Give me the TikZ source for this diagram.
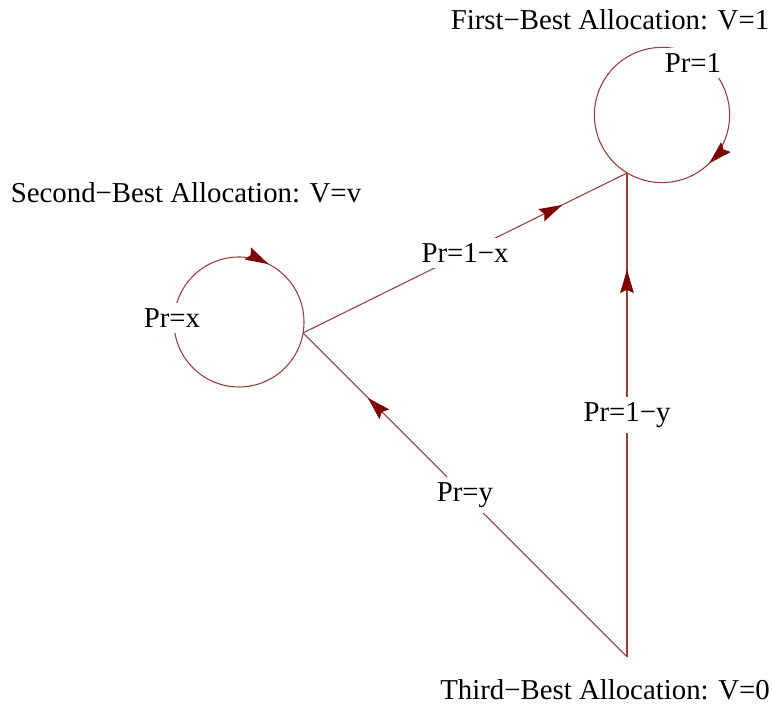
\documentclass[tikz,border=0pt]{standalone}
\usepackage{fontspec}
\setmainfont{Liberation Serif}
\usetikzlibrary{arrows.meta, decorations.markings}
\definecolor{cedge}{HTML}{9A3A3A}
\definecolor{chead}{HTML}{800000}
\tikzset{
  every picture/.style={font=\fontsize{20.5}{24}\selectfont, line width=0.75pt},
  flow/.style={draw=cedge, postaction={decorate},
    decoration={markings, mark=at position #1 with {\arrow[chead]{Stealth[length=5.8mm, width=3.4mm, inset=0.8mm]}}}},
  flow/.default=0.8,
  plabel/.style={fill=white, inner sep=4pt},
  state/.style={align=center},
}

\begin{document}
\begin{tikzpicture}
  \useasboundingbox (0,0) rectangle (19.3,17.675);
  % states
  \coordinate (first) at (15.675,13.35);
  \coordinate (second) at (7.575,9.35);
  \coordinate (third) at (15.675,1.25);
  \node[state] (firstlbl) at (15.25,17.175) {First−Best Allocation: V=1};
  \node[state] (secondlbl) at (4.65,12.85) {Second−Best Allocation: V=v};
  \node[state] (thirdlbl) at (15.125,0.425) {Third−Best Allocation: V=0};
  % self loops
  \draw[flow=0.325] ([shift={(180:1.625)}]5.975,9.625) arc[start angle=180, end angle=-180, radius=1.625];
  \node[plabel] (loopx) at (4.3,9.725) {Pr=x};
  \draw[flow=0.377] ([shift={(90:1.69)}]16.55,14.8) arc[start angle=90, end angle=-270, radius=1.69];
  \node[plabel] (loopone) at (17.325,16.1) {Pr=1};
  % transitions
  \draw[flow] (second) -- node[plabel] {Pr=1−x} (first);
  \draw[flow] (third) -- node[plabel] {Pr=1−y} (first);
  \draw[flow] (third) -- node[plabel] {Pr=y} (second);
\end{tikzpicture}
\end{document}
